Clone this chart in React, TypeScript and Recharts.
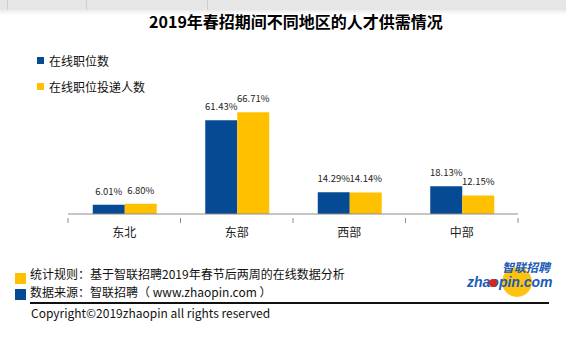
import { BarChart, Bar, XAxis, YAxis, LabelList } from 'recharts';

const regions = ['东北', '东部', '西部', '中部'];
const jobShare = [6.01, 61.43, 14.29, 18.13];
const applyShare = [6.8, 66.71, 14.14, 12.15];
const seriesNames = ['在线职位数', '在线职位投递人数'];

const BLUE = '#064a93';
const YELLOW = '#ffc000';
const FONT = '"Noto Sans CJK SC", "Noto Sans", sans-serif';

const W = 566;
const H = 354;
const MARGIN = { top: 92, right: 48, bottom: 110, left: 68 };

const data = regions.map((name, i) => ({
  name,
  jobs: jobShare[i],
  applies: applyShare[i],
}));

function CategoryTick({ x, y, payload, index }: any) {
  const half = (W - MARGIN.left - MARGIN.right) / regions.length / 2;
  return (
    <g>
      <line x1={x - half} y1={y - 4} x2={x - half} y2={y + 1} stroke="#8c8c8c" />
      {index === regions.length - 1 && (
        <line x1={x + half} y1={y - 4} x2={x + half} y2={y + 1} stroke="#8c8c8c" />
      )}
      <text x={x} y={y + 15} textAnchor="middle" fontSize={12} fill="#222" fontFamily={FONT}>
        {payload.value}
      </text>
    </g>
  );
}

const pct = (v: any) => `${Number(v).toFixed(2)}%`;

export default function App() {
  return (
    <div style={{ position: 'absolute', left: 0, top: 0, width: W, height: H, background: '#fff', fontFamily: FONT }}>
      {/* sheet header strip */}
      <div style={{ position: 'absolute', left: 0, top: 0, width: W, height: 10, background: '#e6e6e6' }} />
      {[7, 86, 207].map((x) => (
        <div key={x} style={{ position: 'absolute', left: x, top: 0, width: 1, height: 10, background: '#cfcfcf' }} />
      ))}
      <div style={{ position: 'absolute', left: 0, top: 10, width: W, height: 5, background: 'linear-gradient(#ececec, #fff)' }} />

      <div style={{ position: 'absolute', left: 0, width: 592, top: 9, textAlign: 'center', fontSize: 16, fontWeight: 700, color: '#000' }}>
        2019年春招期间不同地区的人才供需情况
      </div>

      {/* legend */}
      <div style={{ position: 'absolute', left: 37, top: 47, fontSize: 12, color: '#111' }}>
        {seriesNames.map((n, i) => (
          <div key={n} style={{ display: 'flex', alignItems: 'center', height: 26 }}>
            <span style={{ width: 7, height: 7, background: i === 0 ? BLUE : YELLOW, marginRight: 5 }} />
            {n}
          </div>
        ))}
      </div>

      <div style={{ position: 'absolute', left: 0, top: 0 }}>
        <BarChart width={W} height={H} data={data} margin={MARGIN} barCategoryGap="22%" barGap={0}>
          <XAxis
            dataKey="name"
            height={30}
            axisLine={{ stroke: '#8c8c8c' }}
            tickLine={false}
            tick={<CategoryTick />}
            interval={0}
          />
          <YAxis hide domain={[0, 80]} />
          <Bar dataKey="jobs" name={seriesNames[0]} fill={BLUE} isAnimationActive={false}>
            <LabelList dataKey="jobs" position="top" offset={10} formatter={pct} fontSize={9.5} fill="#222" fontFamily={FONT} />
          </Bar>
          <Bar dataKey="applies" name={seriesNames[1]} fill={YELLOW} isAnimationActive={false}>
            <LabelList dataKey="applies" position="top" offset={10} formatter={pct} fontSize={9.5} fill="#222" fontFamily={FONT} />
          </Bar>
        </BarChart>
      </div>

      {/* footer */}
      <div style={{ position: 'absolute', left: 15, top: 273, width: 11, height: 11, background: YELLOW }} />
      <div style={{ position: 'absolute', left: 15, top: 289, width: 11, height: 11, background: BLUE }} />
      <div style={{ position: 'absolute', left: 30, top: 265, fontSize: 12, color: '#111', lineHeight: '18px' }}>
        统计规则：基于智联招聘2019年春节后两周的在线数据分析
      </div>
      <div style={{ position: 'absolute', left: 30, top: 283, fontSize: 12, color: '#111', lineHeight: '18px' }}>
        数据来源：智联招聘（ www.zhaopin.com ）
      </div>
      <div style={{ position: 'absolute', left: 30, top: 302, width: 519, height: 1.5, background: '#111' }} />
      <div style={{ position: 'absolute', left: 31, top: 304, fontSize: 12, color: '#111', lineHeight: '18px' }}>
        Copyright©2019zhaopin all rights reserved
      </div>

      {/* logo */}
      <svg style={{ position: 'absolute', left: 460, top: 259 }} width={104} height={42}>
        <circle cx={57} cy={23} r={15} fill="#ffc20e" />
        <text x={42} y={13} fontSize={12} fontWeight={700} fontStyle="italic" fill="#1a5bb8" fontFamily={FONT}>
          智联招聘
        </text>
        <text x={7} y={28} fontSize={14} fontWeight={700} fontStyle="italic" fill="#1a5bb8" fontFamily="Liberation Sans, Arial, sans-serif">
          zhaopin.com
        </text>
        <circle cx={33} cy={24} r={4} fill="#d7261e" />
      </svg>
    </div>
  );
}
